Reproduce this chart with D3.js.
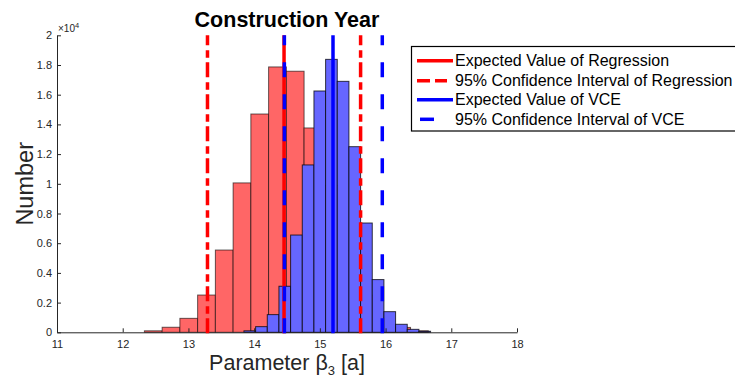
<!DOCTYPE html>
<html>
<head>
<meta charset="utf-8">
<script src="https://cdn.jsdelivr.net/npm/d3@7/dist/d3.min.js"></script>
<style>
  html, body { margin: 0; padding: 0; background: #fff; overflow: hidden; }
  svg { display: block; font-family: "Liberation Sans", Arial, sans-serif; }
</style>
</head>
<body>
<svg id="chart" width="735" height="380"></svg>
<script>
// ---- data ----
const regEdges  = [12.33, 12.60, 12.87, 13.14, 13.41, 13.68, 13.95, 14.22, 14.49, 14.76, 15.03, 15.30, 15.57, 15.84, 16.11, 16.38, 16.65];
const regCounts = [100, 340, 940, 2510, 5540, 10060, 14700, 17870, 17580, 13760, 9900, 5500, 2500, 950, 330, 100];
const vceEdges  = [13.845, 14.0225, 14.2, 14.3775, 14.555, 14.7325, 14.91, 15.0875, 15.265, 15.4425, 15.62, 15.7975, 15.975, 16.1525, 16.33, 16.5075, 16.685];
const vceCounts = [100, 380, 1190, 3100, 6550, 11270, 16250, 18380, 16900, 12500, 7360, 3550, 1390, 540, 200, 70];
const regMean = 14.455;
const regCI   = [13.29, 15.62];
const vceMean = 15.20;
const vceCI   = [14.46, 15.95];
const xTicks = [11, 12, 13, 14, 15, 16, 17, 18];
const yTicks = [0, 2000, 4000, 6000, 8000, 10000, 12000, 14000, 16000, 18000, 20000];
const yTickLabels = ["0", "0.2", "0.4", "0.6", "0.8", "1", "1.2", "1.4", "1.6", "1.8", "2"];
const legendLabels = ["Expected Value of Regression", "95% Confidence Interval of Regression", "Expected Value of VCE", "95% Confidence Interval of VCE"];
const titleText = "Construction Year";

// ---- layout ----
const svg = d3.select("#chart");
const x = d3.scaleLinear().domain([11, 18]).range([57, 517]);
const y = d3.scaleLinear().domain([0, 20000]).range([332.3, 35.3]);
const axisColor = "#262626";
const redFill = "#ff6666", blueFill = "#6666ff";
const redDash = "15,4.5,7.5,5", blueDash = "15,17";

function bins(edges, counts) {
  return counts.map((c, i) => ({ x0: edges[i], x1: edges[i + 1], c }));
}

// bars
svg.append("g").selectAll("rect").data(bins(regEdges, regCounts)).join("rect")
  .attr("x", d => x(d.x0)).attr("width", d => x(d.x1) - x(d.x0))
  .attr("y", d => y(d.c)).attr("height", d => y(0) - y(d.c))
  .attr("fill", redFill).attr("stroke", "#000").attr("stroke-opacity", 0.6).attr("stroke-width", 1);

svg.append("g").selectAll("rect").data(bins(vceEdges, vceCounts)).join("rect")
  .attr("x", d => x(d.x0)).attr("width", d => x(d.x1) - x(d.x0))
  .attr("y", d => y(d.c)).attr("height", d => y(0) - y(d.c))
  .attr("fill", blueFill).attr("stroke", "#000").attr("stroke-opacity", 0.75).attr("stroke-width", 1);

// axes
const xAxis = d3.axisBottom(x).tickValues(xTicks).tickSize(-4).tickSizeOuter(0).tickPadding(8).tickFormat(d3.format("d"));
const gx = svg.append("g").attr("transform", `translate(0,${y(0)})`).call(xAxis);
gx.select(".domain").attr("stroke", axisColor);
gx.selectAll(".tick line").attr("stroke", axisColor);
gx.selectAll(".tick text").attr("fill", axisColor).attr("font-size", 11).attr("font-family", "Liberation Sans, Arial, sans-serif");

const yAxis = d3.axisLeft(y).tickValues(yTicks).tickSize(-4).tickSizeOuter(0).tickPadding(5)
  .tickFormat((d, i) => yTickLabels[i]);
const gy = svg.append("g").attr("transform", `translate(${x(11)},0)`).call(yAxis);
gy.select(".domain").attr("stroke", axisColor);
gy.selectAll(".tick line").attr("stroke", axisColor);
gy.selectAll(".tick text").attr("fill", axisColor).attr("font-size", 11).attr("font-family", "Liberation Sans, Arial, sans-serif");

// exponent label
const ex = svg.append("text").attr("x", x(11) + 1).attr("y", y(20000) - 3)
  .attr("font-size", 10).attr("fill", axisColor);
ex.append("tspan").text("×10");
ex.append("tspan").attr("font-size", 7.5).attr("dy", -4).text("4");

// vertical lines
const vlines = [
  { v: regMean,  color: "red",  dash: null },
  { v: regCI[0], color: "red",  dash: redDash },
  { v: regCI[1], color: "red",  dash: redDash },
  { v: vceMean,  color: "blue", dash: null },
  { v: vceCI[0], color: "blue", dash: blueDash },
  { v: vceCI[1], color: "blue", dash: blueDash }
];
svg.append("g").selectAll("line").data(vlines).join("line")
  .attr("x1", d => x(d.v)).attr("x2", d => x(d.v))
  .attr("y1", y(0) + 1).attr("y2", y(20000))
  .attr("stroke", d => d.color).attr("stroke-width", 3.5)
  .attr("stroke-dasharray", d => d.dash);

// title
svg.append("text").attr("x", (x(11) + x(18)) / 2).attr("y", 27)
  .attr("text-anchor", "middle").attr("font-size", 21.5).attr("font-weight", "bold")
  .attr("fill", "#000").text(titleText);

// y label
svg.append("text").attr("transform", `translate(33,${(y(0) + y(20000)) / 2}) rotate(-90)`)
  .attr("text-anchor", "middle").attr("font-size", 23.5).attr("fill", axisColor).text("Number");

// x label
const xl = svg.append("text").attr("x", (x(11) + x(18)) / 2).attr("y", 370)
  .attr("text-anchor", "middle").attr("font-size", 21.5).attr("fill", axisColor);
xl.append("tspan").text("Parameter β");
xl.append("tspan").attr("font-size", 13).attr("dy", 5).text("3");
xl.append("tspan").attr("dy", -5).text(" [a]");

// legend
const lg = svg.append("g");
lg.append("rect").attr("x", 411.5).attr("y", 46.5).attr("width", 340).attr("height", 84.5)
  .attr("fill", "#fff").attr("stroke", "#000").attr("stroke-width", 1.2);
const legendRows = [
  { color: "red",  dash: null,          x1: 417, x2: 453 },
  { color: "red",  dash: "13,5,12,50",  x1: 417, x2: 453 },
  { color: "blue", dash: null,          x1: 417, x2: 453 },
  { color: "blue", dash: "14,40",       x1: 420, x2: 453 }
];
const rowY = [60.7, 80.7, 99.7, 119.3];
legendRows.forEach((r, i) => {
  lg.append("line").attr("x1", r.x1).attr("x2", r.x2).attr("y1", rowY[i]).attr("y2", rowY[i])
    .attr("stroke", r.color).attr("stroke-width", 3.5).attr("stroke-dasharray", r.dash);
  lg.append("text").attr("x", 455).attr("y", rowY[i] + 5.5).attr("font-size", 16)
    .attr("fill", "#000").text(legendLabels[i]);
});
</script>
</body>
</html>
